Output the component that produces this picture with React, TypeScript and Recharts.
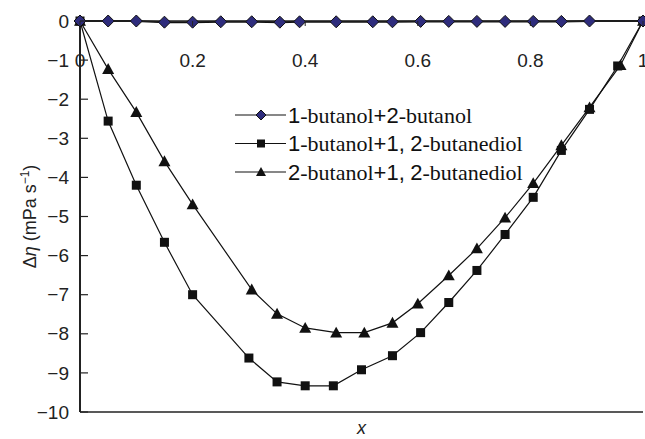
import { LineChart, Line, XAxis, YAxis } from "recharts";

// 1-butanol + 2-butanol
const xDiamond = [0, 0.05, 0.1, 0.15, 0.2, 0.25, 0.305, 0.355, 0.39, 0.455, 0.52, 0.555, 0.605, 0.655, 0.705, 0.755, 0.805, 0.855, 0.905, 1];
const yDiamond = [0, 0, 0, -0.03, -0.03, -0.02, -0.02, -0.03, -0.02, -0.02, -0.02, -0.02, -0.01, -0.01, -0.01, -0.01, -0.01, -0.01, 0, 0];

// 1-butanol + 1,2-butanediol
const xSquare = [0, 0.05, 0.1, 0.15, 0.2, 0.3, 0.35, 0.4, 0.45, 0.5, 0.555, 0.605, 0.655, 0.705, 0.755, 0.805, 0.855, 0.905, 0.955, 1];
const ySquare = [0, -2.56, -4.2, -5.66, -7.0, -8.62, -9.23, -9.33, -9.33, -8.92, -8.56, -7.97, -7.2, -6.38, -5.46, -4.51, -3.31, -2.26, -1.15, 0];

// 2-butanol + 1,2-butanediol
const xTriangle = [0, 0.05, 0.1, 0.15, 0.2, 0.305, 0.35, 0.4, 0.455, 0.505, 0.555, 0.6, 0.655, 0.705, 0.755, 0.805, 0.855, 0.905, 0.96, 1];
const yTriangle = [0, -1.23, -2.33, -3.59, -4.69, -6.87, -7.49, -7.85, -7.97, -7.97, -7.72, -7.23, -6.51, -5.82, -5.03, -4.15, -3.18, -2.21, -1.13, 0];

const seriesNames = ["1-butanol+2-butanol", "1-butanol+1, 2-butanediol", "2-butanol+1, 2-butanediol"];
const xTicks = [0, 0.2, 0.4, 0.6, 0.8, 1];
const yTicks = [0, -1, -2, -3, -4, -5, -6, -7, -8, -9, -10];

const toRows = (xs: number[], ys: number[]) => xs.map((x, i) => ({ x, y: ys[i] }));

const SANS = "'Liberation Sans', Arial, sans-serif";
const SERIF = "'Liberation Serif', 'Times New Roman', serif";
const DIAMOND_FILL = "#2e2c7c";

const Diamond = ({ cx, cy, size = 6 }: any) =>
  cx == null ? null : (
    <path d={`M${cx},${cy - size}L${cx + size},${cy}L${cx},${cy + size}L${cx - size},${cy}Z`} fill={DIAMOND_FILL} stroke="#111" strokeWidth={1} />
  );

const Square = ({ cx, cy, size = 4.5 }: any) =>
  cx == null ? null : <rect x={cx - size} y={cy - size} width={size * 2} height={size * 2} fill="#111" />;

const Triangle = ({ cx, cy, size = 6 }: any) =>
  cx == null ? null : <path d={`M${cx},${cy - size}L${cx + size},${cy + size * 0.8}L${cx - size},${cy + size * 0.8}Z`} fill="#111" />;

const markers = [Diamond, Square, Triangle];

// digits and separators in sans, words in serif, as in the original figure
const splitDigits = (s: string) =>
  s.split(/([0-9,+]+)/).filter((p) => p.length > 0).map((p, i) =>
    /[0-9,+]/.test(p) ? (
      <tspan key={i} style={{ fontFamily: SANS }}>{p}</tspan>
    ) : (
      <tspan key={i} style={{ fontFamily: SERIF }}>{p}</tspan>
    )
  );

const LegendBox = () => (
  <svg width={330} height={90} style={{ position: "absolute", left: 230, top: 102, overflow: "visible" }}>
    {seriesNames.map((name, i) => {
      const M = markers[i];
      const cy = 13 + i * 28.5;
      return (
        <g key={name}>
          <line x1={5} x2={56} y1={cy} y2={cy} stroke="#111" strokeWidth={1.2} />
          <M cx={31} cy={cy} size={i === 0 ? 5 : i === 1 ? 4 : 5} />
          <text x={58} y={cy} dy="0.35em" fontSize={22} fill="#111" style={{ fontFamily: SERIF }}>
            {splitDigits(name)}
          </text>
        </g>
      );
    })}
  </svg>
);

const TopTick = ({ x, y, payload }: any) => (
  <g>
    <line x1={x} x2={x} y1={y} y2={y + 5} stroke="#222" strokeWidth={1} />
    <text x={x} y={y + 39} dy="0.35em" textAnchor="middle" style={{ fontFamily: SANS }} fontSize={19} fill="#222">
      {payload.value}
    </text>
  </g>
);

const LeftTick = ({ x, y, payload }: any) => (
  <g>
    <line x1={x} x2={x + 8} y1={y} y2={y} stroke="#222" strokeWidth={1.2} />
    <text x={x - 11} y={y} dy="0.35em" textAnchor="end" style={{ fontFamily: SANS }} fontSize={19} fill="#222">
      {payload.value < 0 ? `\u2212${-payload.value}` : payload.value}
    </text>
  </g>
);

const YLabel = ({ viewBox }: any) => {
  const cx = 30;
  const cy = viewBox.y + viewBox.height / 2;
  return (
    <text x={cx} y={cy} transform={`rotate(-90 ${cx} ${cy})`} textAnchor="middle" dy="0.35em" style={{ fontFamily: SANS }} fontSize={18} fill="#222">
      Δ<tspan fontStyle="italic">η</tspan> (mPa s<tspan dy={-7} fontSize={12}>−1</tspan><tspan dy={7}>)</tspan>
    </text>
  );
};

const XLabel = ({ viewBox }: any) => (
  <text x={viewBox.x + viewBox.width / 2} y={viewBox.y + 16} textAnchor="middle" dy="0.35em" style={{ fontFamily: SANS }} fontStyle="italic" fontSize={18} fill="#222">
    x
  </text>
);

export default function App() {
  return (
    <div style={{ position: "absolute", left: 0, top: 0, width: 645, height: 439, background: "#fff" }}>
      <LineChart width={645} height={439} margin={{ top: 20, right: 2, bottom: 0, left: 0 }}>
        <XAxis
          xAxisId="top"
          orientation="top"
          type="number"
          dataKey="x"
          domain={[0, 1]}
          ticks={xTicks}
          interval={0}
          height={1}
          tickSize={0}
          tickMargin={0}
          tick={<TopTick />}
          axisLine={{ stroke: "#222", strokeWidth: 1.5 }}
          tickLine={false}
        />
        <XAxis
          xAxisId="bottom"
          orientation="bottom"
          type="number"
          dataKey="x"
          domain={[0, 1]}
          height={27}
          tick={false}
          tickLine={false}
          axisLine={{ stroke: "#222", strokeWidth: 1.5 }}
          label={<XLabel />}
        />
        <YAxis
          type="number"
          domain={[-10, 0]}
          ticks={yTicks}
          interval={0}
          width={80}
          tickSize={0}
          tickMargin={0}
          tick={<LeftTick />}
          tickLine={false}
          axisLine={{ stroke: "#222", strokeWidth: 2 }}
          label={<YLabel />}
        />
        <Line
          xAxisId="top"
          data={toRows(xSquare, ySquare)}
          dataKey="y"
          name={seriesNames[1]}
          stroke="#111"
          strokeWidth={1.2}
          dot={<Square />}
          activeDot={false}
          isAnimationActive={false}
        />
        <Line
          xAxisId="top"
          data={toRows(xTriangle, yTriangle)}
          dataKey="y"
          name={seriesNames[2]}
          stroke="#111"
          strokeWidth={1.2}
          dot={<Triangle />}
          activeDot={false}
          isAnimationActive={false}
        />
        <Line
          xAxisId="top"
          data={toRows(xDiamond, yDiamond)}
          dataKey="y"
          name={seriesNames[0]}
          stroke="#111"
          strokeWidth={2}
          dot={<Diamond />}
          activeDot={false}
          isAnimationActive={false}
        />
      </LineChart>
      <LegendBox />
    </div>
  );
}
